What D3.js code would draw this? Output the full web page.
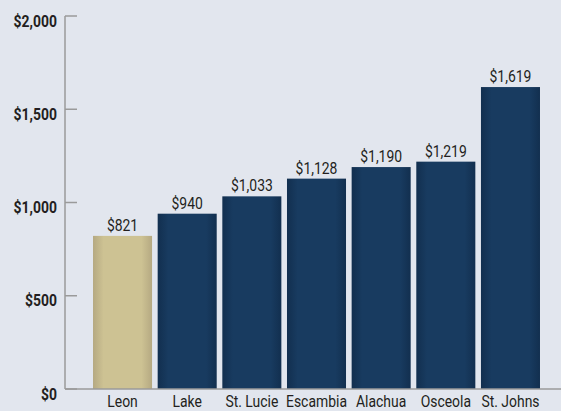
<!DOCTYPE html>
<html lang="en">
<head>
<meta charset="UTF-8">
<title>Cost by county</title>
<script src="https://cdnjs.cloudflare.com/ajax/libs/d3/7.8.5/d3.min.js"></script>
<style>
    html, body { margin: 0; padding: 0; background: #e2e6ee; }
    svg { display: block; }
    text { font-family: Roboto, "DejaVu Sans Condensed", sans-serif; fill: #231f20; font-size: 17px; }
    .tick-label { font-weight: bold; }
</style>
</head>
<body>
<svg width="561" height="411"></svg>
<script>
    const counties = ["Leon", "Lake", "St. Lucie", "Escambia", "Alachua", "Osceola", "St. Johns"];
    const costs = [821, 940, 1033, 1128, 1190, 1219, 1619];
    const yTicks = [0, 500, 1000, 1500, 2000];
    const highlighted = ["Leon"];

    const svg = d3.select("svg");
    const width = 561;
    const axisX = 65, baseY = 389, topY = 16;
    const squeeze = 0.82; // fake a condensed face

    const x = d3.scaleBand()
        .domain(counties)
        .range([90.2, 542.8])
        .paddingInner(0.087)
        .paddingOuter(0.0435);

    const y = d3.scaleLinear()
        .domain([0, 2000])
        .range([baseY, topY]);

    const fmt = d3.format("$,");

    const defs = svg.append("defs");
    function barGradient(id, edge, mid) {
        const g = defs.append("linearGradient").attr("id", id)
            .attr("x1", "0%").attr("x2", "100%").attr("y1", "0%").attr("y2", "0%");
        g.append("stop").attr("offset", "0%").attr("stop-color", edge);
        g.append("stop").attr("offset", "18%").attr("stop-color", mid);
        g.append("stop").attr("offset", "82%").attr("stop-color", mid);
        g.append("stop").attr("offset", "100%").attr("stop-color", edge);
    }
    barGradient("navy", "#122f4f", "#183b60");
    barGradient("tan", "#b5a982", "#cdc293");

    // y axis
    svg.append("line")
        .attr("x1", axisX).attr("x2", axisX)
        .attr("y1", y(2000)).attr("y2", baseY)
        .attr("stroke", "#9a9a9a").attr("stroke-width", 1.5);

    svg.append("g").selectAll("line")
        .data(yTicks)
        .join("line")
        .attr("x1", axisX).attr("x2", axisX + 12)
        .attr("y1", d => y(d)).attr("y2", d => y(d))
        .attr("stroke", "#9a9a9a").attr("stroke-width", 1.5);

    svg.append("g").selectAll("text")
        .data(yTicks)
        .join("text")
        .attr("class", "tick-label")
        .attr("transform", d => `translate(57,${y(d) + 10.5}) scale(${squeeze},1)`)
        .attr("text-anchor", "end")
        .text(d => fmt(d));

    // bars
    svg.append("g").selectAll("rect")
        .data(counties)
        .join("rect")
        .attr("x", d => x(d))
        .attr("width", x.bandwidth())
        .attr("y", (d, i) => y(costs[i]))
        .attr("height", (d, i) => baseY - y(costs[i]))
        .attr("fill", d => highlighted.includes(d) ? "url(#tan)" : "url(#navy)");

    // baseline
    svg.append("line")
        .attr("x1", axisX).attr("x2", width)
        .attr("y1", baseY).attr("y2", baseY)
        .attr("stroke", "#9a9a9a").attr("stroke-width", 1.5);

    // value labels
    svg.append("g").selectAll("text")
        .data(counties)
        .join("text")
        .attr("transform", (d, i) => `translate(${x(d) + x.bandwidth() / 2},${y(costs[i]) - 5}) scale(${squeeze},1)`)
        .attr("text-anchor", "middle")
        .text((d, i) => fmt(costs[i]));

    // category labels
    svg.append("g").selectAll("text")
        .data(counties)
        .join("text")
        .attr("transform", d => `translate(${x(d) + x.bandwidth() / 2},407) scale(${squeeze},1)`)
        .attr("text-anchor", "middle")
        .text(d => d);
</script>
</body>
</html>
